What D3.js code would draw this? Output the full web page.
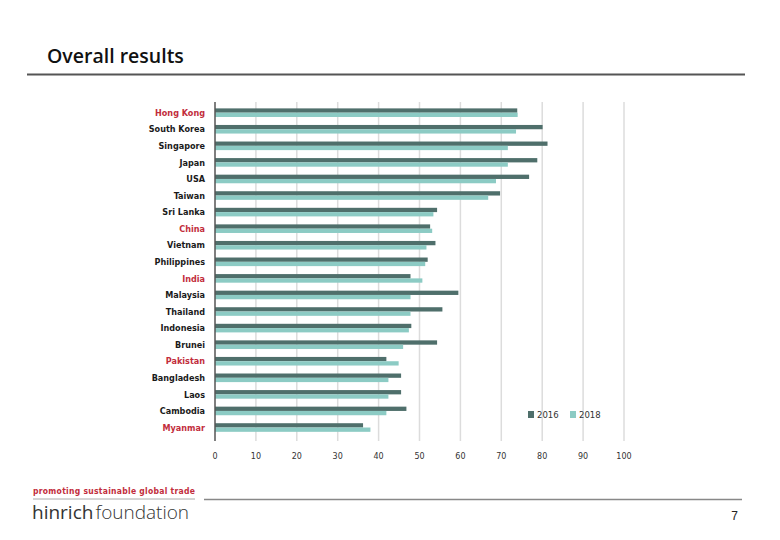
<!DOCTYPE html>
<html>
<head>
<meta charset="utf-8">
<script src="https://cdn.jsdelivr.net/npm/d3@7"></script>
<style>
  body { margin: 0; background: #fff; }
  svg { display: block; }
</style>
</head>
<body>
<svg id="chart" width="780" height="540"></svg>
<script>
// data
const countries = ["Hong Kong", "South Korea", "Singapore", "Japan", "USA", "Taiwan",
  "Sri Lanka", "China", "Vietnam", "Philippines", "India", "Malaysia", "Thailand",
  "Indonesia", "Brunei", "Pakistan", "Bangladesh", "Laos", "Cambodia", "Myanmar"];
const highlighted = ["Hong Kong", "China", "India", "Pakistan", "Myanmar"];
const years = ["2016", "2018"];
const values2016 = [73.9, 80.1, 81.3, 78.8, 76.8, 69.7, 54.3, 52.6, 53.9, 52.0, 47.8,
  59.5, 55.6, 48.0, 54.3, 41.9, 45.5, 45.5, 46.8, 36.2];
const values2018 = [74.0, 73.6, 71.6, 71.6, 68.7, 66.8, 53.4, 53.1, 51.7, 51.4, 50.7,
  47.8, 47.8, 47.4, 46.0, 44.9, 42.4, 42.4, 41.9, 38.0];
const xTicks = [0, 10, 20, 30, 40, 50, 60, 70, 80, 90, 100];

const colors = { "2016": "#4f6f6b", "2018": "#8ccbc4" };
const red = "#c22d3c";

const svg = d3.select("#chart");

// ---- slide header ----
svg.append("text")
  .attr("x", 47).attr("y", 63)
  .attr("font-family", "Open Sans, sans-serif")
  .attr("font-size", 19.5)
  .attr("font-weight", 600)
  .attr("fill", "#111")
  .text("Overall results");

svg.append("line")
  .attr("x1", 27).attr("x2", 745).attr("y1", 74.5).attr("y2", 74.5)
  .attr("stroke", "#555").attr("stroke-width", 2);

// ---- chart ----
const x = d3.scaleLinear().domain([0, 100]).range([215, 624]);
const y = d3.scaleBand().domain(countries).range([104.4, 435.8]).padding(0);
const ySub = d3.scaleBand().domain(years)
  .range([y.bandwidth() / 2 - 4.3, y.bandwidth() / 2 + 4.3]);

const plotTop = 102, plotBottom = 441;

// gridlines
svg.append("g")
  .selectAll("line")
  .data(xTicks.slice(1))
  .join("line")
  .attr("x1", d => x(d)).attr("x2", d => x(d))
  .attr("y1", plotTop).attr("y2", plotBottom)
  .attr("stroke", "#dcdcdc").attr("stroke-width", 1.5);

const rows = countries.map((c, i) => ({ country: c, "2016": values2016[i], "2018": values2018[i] }));

const groups = svg.append("g")
  .selectAll("g")
  .data(rows)
  .join("g")
  .attr("transform", d => `translate(0,${y(d.country)})`);

groups.selectAll("rect")
  .data(d => years.map(yr => ({ year: yr, value: d[yr] })))
  .join("rect")
  .attr("x", x(0))
  .attr("y", d => ySub(d.year))
  .attr("width", d => x(d.value) - x(0))
  .attr("height", ySub.bandwidth())
  .attr("fill", d => colors[d.year]);

// left axis line
svg.append("line")
  .attr("x1", x(0)).attr("x2", x(0)).attr("y1", plotTop).attr("y2", plotBottom)
  .attr("stroke", "#555").attr("stroke-width", 1.5);

// country labels
svg.append("g")
  .selectAll("text")
  .data(countries)
  .join("text")
  .attr("x", 205)
  .attr("y", d => y(d) + y.bandwidth() / 2)
  .attr("dy", "0.35em")
  .attr("text-anchor", "end")
  .attr("font-family", "DejaVu Sans Condensed, DejaVu Sans, sans-serif")
  .attr("font-weight", "bold")
  .attr("font-size", 9)
  .attr("fill", d => highlighted.includes(d) ? red : "#1a1a1a")
  .text(d => d);

// x tick labels
svg.append("g")
  .selectAll("text")
  .data(xTicks)
  .join("text")
  .attr("x", d => x(d))
  .attr("y", 459)
  .attr("text-anchor", "middle")
  .attr("font-family", "DejaVu Sans, sans-serif")
  .attr("font-size", 8)
  .attr("fill", "#333")
  .text(d => d);

// legend
const legend = svg.append("g").attr("transform", "translate(528,411)");
years.forEach((yr, i) => {
  const g = legend.append("g").attr("transform", `translate(${i * 42},0)`);
  g.append("rect").attr("width", 6).attr("height", 7).attr("fill", colors[yr]);
  g.append("text")
    .attr("x", 9).attr("y", 6.5)
    .attr("font-family", "DejaVu Sans, sans-serif")
    .attr("font-size", 8.5)
    .attr("fill", "#333")
    .text(yr);
});

// ---- footer ----
svg.append("text")
  .attr("x", 33).attr("y", 494)
  .attr("font-family", "DejaVu Sans Condensed, sans-serif")
  .attr("font-weight", "bold")
  .attr("font-size", 8.5)
  .attr("fill", red)
  .attr("textLength", 162)
  .text("promoting sustainable global trade");

svg.append("line")
  .attr("x1", 33).attr("x2", 195).attr("y1", 499).attr("y2", 499)
  .attr("stroke", "#aaa").attr("stroke-width", 1);
svg.append("line")
  .attr("x1", 204).attr("x2", 742).attr("y1", 499.5).attr("y2", 499.5)
  .attr("stroke", "#888").attr("stroke-width", 1.5);

const brand = svg.append("text")
  .attr("x", 32).attr("y", 519)
  .attr("font-family", "Open Sans, sans-serif")
  .attr("font-size", 19)
  .attr("fill", "#333");
brand.append("tspan").attr("font-weight", 400).text("hinrich");
brand.append("tspan").attr("dx", 2).attr("font-weight", 300).text("foundation");

svg.append("text")
  .attr("x", 738).attr("y", 520)
  .attr("text-anchor", "end")
  .attr("font-family", "Liberation Sans, sans-serif")
  .attr("font-size", 12)
  .attr("fill", "#222")
  .text("7");
</script>
</body>
</html>
